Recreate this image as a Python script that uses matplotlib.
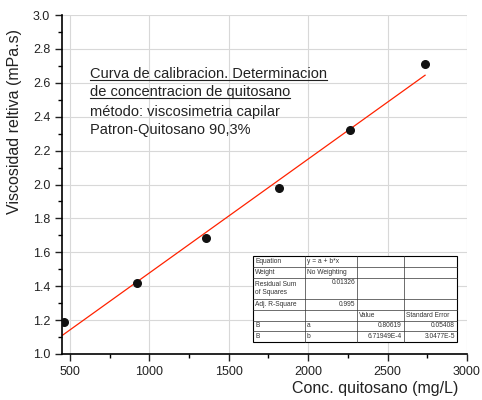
import matplotlib
matplotlib.use("Agg")
import matplotlib.pyplot as plt
from matplotlib.ticker import MultipleLocator

plt.rcParams['font.family'] = ['Liberation Sans', 'DejaVu Sans']

conc = [462, 922, 1356, 1816, 2263, 2736]
visc = [1.189, 1.419, 1.684, 1.979, 2.32, 2.71]
fit_a = 0.80619
fit_b = 6.71949e-4
fit_x = [450, 2736]

title_lines = ["Curva de calibracion. Determinacion", "de concentracion de quitosano"]
info_lines = ["método: viscosimetria capilar", "Patron-Quitosano 90,3%"]

table_rows = [
    ["Equation", "y = a + b*x", "", ""],
    ["Weight", "No Weighting", "", ""],
    ["Residual Sum\nof Squares", "0.01326", "", ""],
    ["Adj. R-Square", "0.995", "", ""],
    ["", "", "Value", "Standard Error"],
    ["B", "a", "0.80619", "0.05408"],
    ["B", "b", "6.71949E-4", "3.0477E-5"],
]

fig = plt.figure(figsize=(4.82, 4.0), dpi=100)
ax = fig.add_axes([62/482, 1-354/400, (467-62)/482, (354-15)/400])

ax.set_xlim(450, 3000)
ax.set_ylim(1.0, 3.0)
ax.xaxis.set_major_locator(MultipleLocator(500))
ax.xaxis.set_minor_locator(MultipleLocator(250))
ax.yaxis.set_major_locator(MultipleLocator(0.2))
ax.yaxis.set_minor_locator(MultipleLocator(0.1))
ax.grid(True, which='major', color='#d8d8d8', lw=0.8)
ax.set_axisbelow(True)
for s in ['top', 'right']:
    ax.spines[s].set_visible(False)
for s in ['left', 'bottom']:
    ax.spines[s].set_linewidth(1.2)
ax.tick_params(which='major', direction='out', length=5, width=1, labelsize=9, colors='#222222')
ax.tick_params(which='minor', direction='out', length=3, width=1)
ax.set_yticklabels([f"{v:.1f}" for v in ax.get_yticks()])

fy = [fit_a + fit_b * x for x in fit_x]
ax.plot(fit_x, fy, color='#ff2200', lw=0.9, zorder=2)
ax.scatter(conc, visc, s=30, color='#111111', zorder=3)

fig.text(15/482, 1-122/400, "Viscosidad reltiva (mPa.s)", rotation=90, ha='center', va='center',
         fontsize=11.5, color='#222222')
fig.text(458/482, 1-388/400, "Conc. quitosano (mg/L)", ha='right', va='center', fontsize=11.5, color='#222222')

ys = [74, 92, 112, 130]
texts = []
for i, line in enumerate(title_lines + info_lines):
    t = fig.text(90/482, 1-ys[i]/400, line, ha='left', va='center', fontsize=10.5, color='#222222')
    texts.append(t)

fig.canvas.draw()
r = fig.canvas.get_renderer()
for t in texts[:2]:
    bb = t.get_window_extent(r)
    y0 = bb.y0 + 1
    fig.add_artist(plt.Line2D([bb.x0/482, bb.x1/482], [y0/400, y0/400],
                              transform=fig.transFigure, color='#222222', lw=0.8))

# table
tx0, tx1 = 253, 457
ty0, ty1 = 256, 342
col_edges = [253, 305, 357, 404, 457]
row_units = [1, 1, 2, 1, 1, 1, 1]
unit = (ty1 - ty0) / sum(row_units)
row_edges = [ty0]
for u in row_units:
    row_edges.append(row_edges[-1] + u * unit)

def fx(p):
    return p / 482
def fyy(p):
    return 1 - p / 400

fig.add_artist(plt.Rectangle((fx(tx0), fyy(ty1)), fx(tx1) - fx(tx0), fyy(ty0) - fyy(ty1),
                             transform=fig.transFigure, facecolor='white', edgecolor='black', lw=0.8, zorder=5))
for yy in row_edges[1:-1]:
    fig.add_artist(plt.Line2D([fx(tx0), fx(tx1)], [fyy(yy), fyy(yy)], transform=fig.transFigure,
                              color='#333333', lw=0.5, zorder=6))
for xx in col_edges[1:-1]:
    fig.add_artist(plt.Line2D([fx(xx), fx(xx)], [fyy(ty0), fyy(ty1)], transform=fig.transFigure,
                              color='#333333', lw=0.5, zorder=6))

for ri, row in enumerate(table_rows):
    ytop = row_edges[ri]
    ybot = row_edges[ri + 1]
    for ci, txt in enumerate(row):
        if not txt:
            continue
        left = col_edges[ci]
        right = col_edges[ci + 1]
        right_align = (ci == 1 and ri in (2, 3)) or (ci >= 2 and ri >= 5)
        if right_align:
            xpos, ha = right - 2, 'right'
        else:
            xpos, ha = left + 2, 'left'
        if ri == 2 and ci == 1:
            ypos, va = ytop + 2, 'top'
        else:
            ypos, va = (ytop + ybot) / 2, 'center'
        fig.text(fx(xpos), fyy(ypos), txt, ha=ha, va=va, fontsize=4.8, color='#333333',
                 zorder=7, linespacing=1.1)

fig.savefig("out.png", dpi=100)
